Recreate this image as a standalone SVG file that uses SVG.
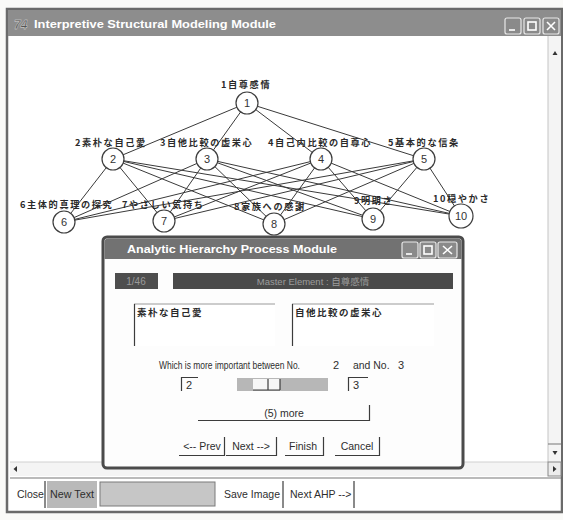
<svg xmlns="http://www.w3.org/2000/svg" width="563" height="520" viewBox="0 0 563 520">
  <style>
    .lbl { font-family: "Noto Sans CJK JP", "Liberation Sans", sans-serif; font-size: 9.2px; font-weight: bold; letter-spacing: 1.6px; fill: #2a2a2a; }
    .num { font-family: "Liberation Sans", sans-serif; font-size: 11px; fill: #333; text-anchor: middle; }
    .node { fill: #ffffff; stroke: #3d3d3d; stroke-width: 1.2; }
    .edge { stroke: #3a3a3a; stroke-width: 1; fill: none; }
    .ui { font-family: "Liberation Sans", sans-serif; font-size: 10.5px; fill: #2e2e2e; }
    .uic { font-family: "Liberation Sans", sans-serif; font-size: 10.5px; fill: #2e2e2e; text-anchor: middle; }
    .q { font-family: "Liberation Sans", sans-serif; font-size: 11px; fill: #2e2e2e; }
    .ttl { font-family: "Liberation Sans", sans-serif; font-weight: bold; fill: #ffffff; }
    .jp { font-family: "Noto Sans CJK JP", sans-serif; font-size: 9.5px; font-weight: bold; letter-spacing: 1.5px; fill: #2a2a2a; }
    .shadow { stroke: #3c3c3c; stroke-width: 1.2; fill: none; }
    .light { stroke: #9a9a9a; stroke-width: 1; fill: none; }
    .tbtn { fill: #8a8a8a; stroke: #e8e8e8; stroke-width: 1.2; }
    .glyph { stroke: #ffffff; stroke-width: 1.6; fill: none; }
  </style>

  <!-- paper -->
  <rect x="0" y="0" width="563" height="520" fill="#fafaf8"/>

  <!-- main ISM window frame -->
  <g id="ism-window">
    <rect x="7" y="9" width="555" height="503" fill="#ffffff" stroke="#6a6a6a" stroke-width="2.5"/>
    <rect x="8" y="10" width="553" height="26" fill="#8d8d8d"/>
    <text x="14" y="29" font-family="Liberation Sans, sans-serif" font-size="12" font-weight="bold" font-style="italic" fill="#555" stroke="#e0e0e0" stroke-width="0.4">74</text>
    <text class="ttl" x="34" y="28" font-size="11.5" textLength="242" lengthAdjust="spacingAndGlyphs">Interpretive Structural Modeling Module</text>
    <rect class="tbtn" x="505" y="18" width="16" height="16" rx="2"/>
    <line class="glyph" x1="509" y1="30" x2="515" y2="30"/>
    <rect class="tbtn" x="524" y="18" width="16" height="16" rx="2"/>
    <rect class="glyph" x="528" y="22" width="8" height="8"/>
    <rect class="tbtn" x="543" y="18" width="16" height="16" rx="2"/>
    <path class="glyph" d="M547 22 L555 30 M555 22 L547 30"/>

    <!-- vertical scrollbar -->
    <rect x="548" y="36" width="13" height="426" fill="#f4f4f4"/>
    <line x1="548" y1="36" x2="548" y2="462" stroke="#c4c4c4"/>
    <path d="M552.5 55 L555 51 L557.5 55 Z" fill="#333"/>
    <line x1="548" y1="444" x2="561" y2="444" stroke="#777"/>
    <path d="M552.5 451 L557.5 451 L555 455 Z" fill="#333"/>

    <!-- horizontal scrollbar -->
    <rect x="10" y="462" width="551" height="14" fill="#f4f4f4"/>
    <line x1="10" y1="462" x2="548" y2="462" stroke="#d0d0d0"/>
    <path d="M17 466 L13.5 469 L17 472 Z" fill="#333"/>
    <rect x="548" y="462" width="13" height="14" fill="#ececec" stroke="#888" stroke-width="1"/>
    <path d="M553 466 L556.5 469 L553 472 Z" fill="#333"/>

    <!-- bottom toolbar -->
    <line x1="10" y1="478" x2="561" y2="478" stroke="#777" stroke-width="1.2"/>
    <text class="ui" x="17" y="498">Close</text>
    <line class="shadow" x1="45" y1="481" x2="45" y2="508"/>
    <rect x="47" y="481" width="50" height="27" fill="#b9b9b9"/>
    <text class="ui" x="50" y="498" textLength="44" lengthAdjust="spacingAndGlyphs">New Text</text>
    <rect x="100" y="482" width="115" height="24" fill="#c6c6c6" stroke="#7a7a7a" stroke-width="1"/>
    <text class="ui" x="224" y="498">Save Image</text>
    <line class="shadow" x1="283" y1="481" x2="283" y2="508"/>
    <text class="ui" x="290" y="498">Next AHP --&gt;</text>
    <line class="shadow" x1="354" y1="481" x2="354" y2="508"/>
  </g>

  <!-- connectors -->
  <g id="connectors">
    <line class="edge" x1="247" y1="103" x2="113" y2="159"/>
    <line class="edge" x1="247" y1="103" x2="207" y2="159"/>
    <line class="edge" x1="247" y1="103" x2="321" y2="159"/>
    <line class="edge" x1="247" y1="103" x2="424" y2="159"/>

    <line class="edge" x1="113" y1="159" x2="64" y2="222"/>
    <line class="edge" x1="113" y1="159" x2="164" y2="221"/>
    <line class="edge" x1="113" y1="159" x2="274" y2="224"/>
    <line class="edge" x1="113" y1="159" x2="373" y2="219"/>
    <line class="edge" x1="113" y1="159" x2="461" y2="216"/>

    <line class="edge" x1="207" y1="159" x2="64" y2="222"/>
    <line class="edge" x1="207" y1="159" x2="164" y2="221"/>
    <line class="edge" x1="207" y1="159" x2="274" y2="224"/>
    <line class="edge" x1="207" y1="159" x2="373" y2="219"/>
    <line class="edge" x1="207" y1="159" x2="461" y2="216"/>

    <line class="edge" x1="321" y1="159" x2="64" y2="222"/>
    <line class="edge" x1="321" y1="159" x2="164" y2="221"/>
    <line class="edge" x1="321" y1="159" x2="274" y2="224"/>
    <line class="edge" x1="321" y1="159" x2="373" y2="219"/>
    <line class="edge" x1="321" y1="159" x2="461" y2="216"/>

    <line class="edge" x1="424" y1="159" x2="64" y2="222"/>
    <line class="edge" x1="424" y1="159" x2="164" y2="221"/>
    <line class="edge" x1="424" y1="159" x2="274" y2="224"/>
    <line class="edge" x1="424" y1="159" x2="373" y2="219"/>
    <line class="edge" x1="424" y1="159" x2="461" y2="216"/>
  </g>

  <!-- nodes -->
  <g id="node-1">
    <text class="lbl" x="221" y="88">1自尊感情</text>
    <circle class="node" cx="247" cy="103" r="11"/>
    <text class="num" x="247" y="107">1</text>
  </g>
  <g id="node-2">
    <text class="lbl" x="75" y="146">2素朴な自己愛</text>
    <circle class="node" cx="113" cy="159" r="11"/>
    <text class="num" x="113" y="163">2</text>
  </g>
  <g id="node-3">
    <text class="lbl" x="160" y="146">3自他比較の虚栄心</text>
    <circle class="node" cx="207" cy="159" r="11"/>
    <text class="num" x="207" y="163">3</text>
  </g>
  <g id="node-4">
    <text class="lbl" x="268" y="146">4自己内比較の自尊心</text>
    <circle class="node" cx="321" cy="159" r="11"/>
    <text class="num" x="321" y="163">4</text>
  </g>
  <g id="node-5">
    <text class="lbl" x="388" y="146">5基本的な信条</text>
    <circle class="node" cx="424" cy="159" r="11"/>
    <text class="num" x="424" y="163">5</text>
  </g>
  <g id="node-6">
    <text class="lbl" x="20" y="208">6主体的真理の探究</text>
    <circle class="node" cx="64" cy="222" r="11"/>
    <text class="num" x="64" y="226">6</text>
  </g>
  <g id="node-7">
    <text class="lbl" x="122" y="208">7やさしい気持ち</text>
    <circle class="node" cx="164" cy="221" r="11"/>
    <text class="num" x="164" y="225">7</text>
  </g>
  <g id="node-8">
    <text class="lbl" x="234" y="210">8家族への感謝</text>
    <circle class="node" cx="274" cy="224" r="11"/>
    <text class="num" x="274" y="228">8</text>
  </g>
  <g id="node-9">
    <text class="lbl" x="354" y="204">9明朗さ</text>
    <circle class="node" cx="373" cy="219" r="11"/>
    <text class="num" x="373" y="223">9</text>
  </g>
  <g id="node-10">
    <text class="lbl" x="433" y="202">10穏やかさ</text>
    <circle class="node" cx="461" cy="216" r="12"/>
    <text class="num" x="461" y="220">10</text>
  </g>

  <!-- AHP pairwise comparison dialog -->
  <g id="ahp-dialog">
    <rect x="103" y="237" width="360" height="231" rx="4" fill="#fdfdfd" stroke="#4b4b4b" stroke-width="3"/>
    <path d="M104.5 259 L104.5 242 Q104.5 238.5 108 238.5 L458 238.5 Q461.5 238.5 461.5 242 L461.5 259 Z" fill="#727272"/>
    <text class="ttl" x="127" y="253" font-size="11.5" textLength="210" lengthAdjust="spacingAndGlyphs">Analytic Hierarchy Process Module</text>
    <rect class="tbtn" x="402" y="242" width="16" height="16" rx="2" fill="#7a7a7a"/>
    <line class="glyph" x1="406" y1="254" x2="412" y2="254"/>
    <rect class="tbtn" x="420" y="242" width="16" height="16" rx="2" fill="#7a7a7a"/>
    <rect class="glyph" x="424" y="246" width="8" height="8"/>
    <rect class="tbtn" x="438" y="242" width="19" height="16" rx="2" fill="#7a7a7a"/>
    <path class="glyph" d="M443 246 L452 254 M452 246 L443 254"/>

    <rect x="115" y="273" width="43" height="16" fill="#4e4e4e"/>
    <text x="136" y="285" text-anchor="middle" font-family="Liberation Sans, sans-serif" font-size="10" fill="#9a9a9a">1/46</text>
    <rect x="173" y="273" width="280" height="16" fill="#4a4a4a"/>
    <text x="313" y="285" text-anchor="middle" font-family="Liberation Sans, 'Noto Sans CJK JP', sans-serif" font-size="9.5" fill="#9c9c9c">Master Element : 自尊感情</text>

    <rect x="134" y="304" width="141" height="42" fill="#ffffff"/>
    <line class="light" x1="134" y1="304" x2="275" y2="304"/>
    <line class="shadow" x1="134.5" y1="304" x2="134.5" y2="346"/>
    <text class="jp" x="137" y="316">素朴な自己愛</text>
    <rect x="292" y="304" width="142" height="42" fill="#ffffff"/>
    <line class="light" x1="292" y1="304" x2="434" y2="304"/>
    <line class="shadow" x1="292.5" y1="304" x2="292.5" y2="346"/>
    <text class="jp" x="295" y="316">自他比較の虚栄心</text>

    <!-- question line, narrow dialog font -->
    <text class="q" transform="translate(159 369) scale(0.77 1)">Which is more important between No.</text>
    <text class="q" x="333" y="369">2</text>
    <text class="q" transform="translate(353 369) scale(0.95 1)">and No.</text>
    <text class="q" x="398" y="369">3</text>

    <path class="shadow" d="M181.5 391 L181.5 377.5 L198 377.5"/>
    <text class="q" x="186" y="389">2</text>
    <rect x="237" y="378" width="91" height="13" fill="#b7b7b7"/>
    <rect x="253" y="379" width="27" height="11" fill="#f6f6f6"/>
    <path class="shadow" d="M253 390 L280 390 M268 379 L268 390 M280 379 L280 390"/>
    <path class="shadow" d="M348.5 391 L348.5 377.5 L368 377.5"/>
    <text class="q" x="353" y="389">3</text>

    <path class="shadow" d="M198 420.5 L369.5 420.5 L369.5 405"/>
    <text class="uic" x="284" y="417">(5) more</text>

    <path class="shadow" d="M179 455.5 L224.5 455.5 L224.5 437"/>
    <text class="uic" x="202" y="450">&lt;-- Prev</text>
    <path class="shadow" d="M226 455.5 L276.5 455.5 L276.5 437"/>
    <text class="uic" x="251" y="450">Next --&gt;</text>
    <path class="shadow" d="M285 455.5 L323.5 455.5 L323.5 437"/>
    <text class="uic" x="303" y="450">Finish</text>
    <path class="shadow" d="M335 455.5 L379.5 455.5 L379.5 437"/>
    <text class="uic" x="357" y="450">Cancel</text>
  </g>
</svg>
